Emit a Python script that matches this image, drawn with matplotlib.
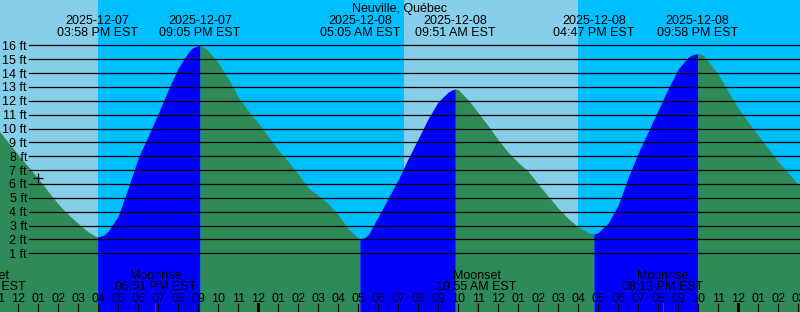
import matplotlib
matplotlib.use("Agg")
import matplotlib.pyplot as plt
import numpy as np

plt.rcParams["font.family"] = ["Liberation Sans", "DejaVu Sans"]

# hours counted from noon, 2025-12-07 (EST)
hours = [-1, -0.5, 0, 0.5, 1, 1.5, 2, 2.5, 3, 3.5, 3.75, 3.967,
         4, 4.25, 4.5, 5, 5.5, 6, 6.5, 7, 7.5, 8, 8.5, 8.67, 9, 9.083,
         9.25, 9.5, 10, 10.5, 11, 11.5, 12, 12.5, 13, 13.5, 14, 14.5, 15, 15.5, 16, 16.5, 17, 17.083,
         17.33, 17.5, 18, 18.5, 19, 19.5, 20, 20.5, 21, 21.5, 21.67, 21.85,
         22, 22.5, 23, 23.5, 24, 24.5, 25, 25.5, 26, 26.5, 27, 27.5, 28, 28.5, 28.783,
         29, 29.5, 30, 30.5, 31, 31.5, 32, 32.5, 33, 33.5, 33.75, 33.967,
         34.25, 34.5, 35, 35.5, 36, 36.5, 37, 37.5, 38, 38.5, 39, 39.5]
feet = [9.9, 9.0, 8.1, 7.25, 6.4, 5.45, 4.55, 3.8, 3.15, 2.55, 2.32, 2.18,
        2.2, 2.3, 2.6, 3.7, 5.75, 7.9, 9.47, 11.1, 12.8, 14.38, 15.49, 15.78, 15.98, 16.0,
        15.9, 15.6, 14.74, 13.58, 12.27, 11.26, 10.4, 9.43, 8.45, 7.61, 6.71, 5.71, 5.17, 4.58, 3.76, 2.78, 2.1, 1.96,
        2.15, 2.35, 3.64, 5.0, 6.33, 7.85, 9.28, 10.73, 11.94, 12.63, 12.78, 12.85,
        12.8, 12.05, 11.13, 10.17, 9.18, 8.27, 7.54, 6.9, 6.0, 5.1, 4.25, 3.5, 2.9, 2.5, 2.4,
        2.5, 3.2, 4.5, 6.5, 8.25, 9.8, 11.35, 12.9, 14.3, 15.15, 15.33, 15.4,
        15.3, 14.85, 13.9, 12.65, 11.45, 10.45, 9.5, 8.55, 7.6, 6.8, 5.95, 5.2]

tide_hours = [3.967, 9.083, 17.083, 21.85, 28.783, 33.967]
tide_dates = ["2025-12-07", "2025-12-07", "2025-12-08", "2025-12-08", "2025-12-08", "2025-12-08"]
tide_clock = ["03:58 PM EST", "09:05 PM EST", "05:05 AM EST", "09:51 AM EST", "04:47 PM EST", "09:58 PM EST"]

moon_hours = [-1.67, 6.85, 22.917, 32.217]
moon_names = ["Moonset", "Moonrise", "Moonset", "Moonrise"]
moon_clock = ["10:20 AM EST", "06:51 PM EST", "10:55 AM EST", "08:13 PM EST"]

# sunset / sunrise / sunset
sun_hours = [3.97, 19.27, 28.0]

now_hour, now_feet = 1.0, 6.4
ft_levels = list(range(1, 17))

day_col = "#87CEEB"
night_col = "#00BFFF"
flood_col = "#0000FF"
ebb_col = "#2E8B57"

t0, t1 = -0.915, 39.085


def py(p):
    # pixel row -> feet
    return (267.2 - p) / 13.87


fig = plt.figure(figsize=(8, 3.12), dpi=100)
ax = fig.add_axes([0, 0, 1, 1])
ax.set_xlim(t0, t1)
ax.set_ylim(py(312), py(0))
ax.axis("off")

# day / night background
edges = [t0 - 2] + sun_hours + [t1 + 2]
for i in range(len(edges) - 1):
    ax.axvspan(edges[i], edges[i + 1], color=day_col if i % 2 == 0 else night_col, lw=0, zorder=0)

# rising / falling fills
hrs = np.array(hours)
ft = np.array(feet)
cuts = [hrs[0]] + tide_hours + [hrs[-1]]
for i in range(len(cuts) - 1):
    m = (hrs >= cuts[i]) & (hrs <= cuts[i + 1])
    rising = i % 2 == 1
    ax.fill_between(hrs[m], py(320), ft[m], color=flood_col if rising else ebb_col, lw=0, zorder=1)

# level lines and labels
for lv in ft_levels:
    ax.plot([(29.3 - 18.3) / 20, t1], [lv, lv], color="black", lw=0.9, zorder=2)
    ax.text((27 - 18.3) / 20, lv - 4.5 / 13.87, f"{lv} ft", ha="right", va="baseline", fontsize=9, zorder=3)

ax.plot(now_hour, now_feet, marker="+", color="black", ms=7, mew=0.9, zorder=3)

fig.text(0.5, 1 - 12.3 / 312, "Neuville, Qu\u00e9bec", ha="center", va="baseline", fontsize=9)

for h, d, c in zip(tide_hours, tide_dates, tide_clock):
    ax.text(h, py(24.2), d, ha="center", va="baseline", fontsize=9, zorder=3)
    ax.text(h, py(36.2), c, ha="center", va="baseline", fontsize=9, zorder=3)

for h, n, c in zip(moon_hours, moon_names, moon_clock):
    ax.text(h, py(278.7), n, ha="center", va="baseline", fontsize=9, zorder=3)
    ax.text(h, py(290.3), c, ha="center", va="baseline", fontsize=9, zorder=3)
    ax.plot([h, h], [py(303), py(312)], color="red", lw=0.8, zorder=3)

# hour ticks
for t in range(-1, 40):
    hr = (11 + t) % 12 + 1
    ax.text(t, py(302.3), f"{hr:02d}", ha="center", va="baseline", fontsize=9, zorder=3)
    midnight = (t % 24) == 12
    ax.plot([t, t], [py(304), py(312)], color="black", lw=2.2 if midnight else 0.8, zorder=3)

fig.savefig("out.png", dpi=100)
